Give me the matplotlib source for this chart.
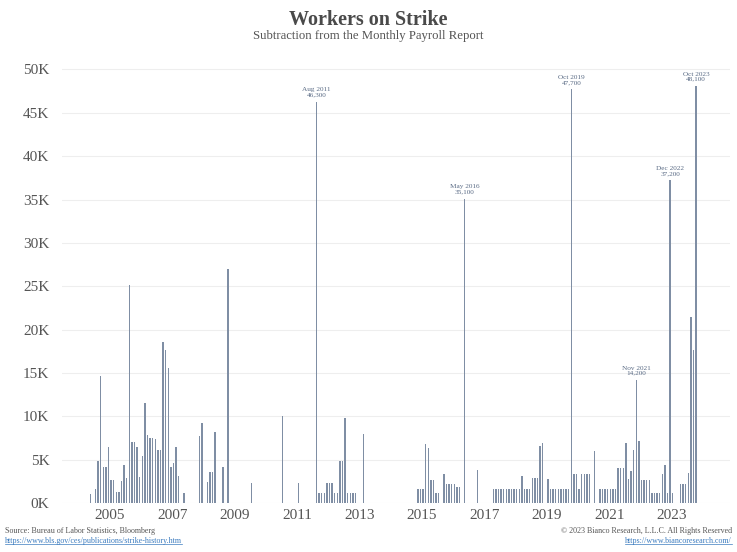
import matplotlib
matplotlib.use("Agg")
import matplotlib.pyplot as plt
from matplotlib.lines import Line2D

# monthly strikers subtracted from payrolls, thousands (months with no bar omitted)
months = [
    "2004-05", "2004-07", "2004-08", "2004-09", "2004-10", "2004-11", "2004-12",
    "2005-01", "2005-02", "2005-03", "2005-04", "2005-05", "2005-06", "2005-07",
    "2005-08", "2005-09", "2005-10", "2005-11", "2005-12",
    "2006-01", "2006-02", "2006-03", "2006-04", "2006-05", "2006-06", "2006-07",
    "2006-08", "2006-09", "2006-10", "2006-11", "2006-12",
    "2007-01", "2007-02", "2007-03", "2007-05", "2007-11", "2007-12",
    "2008-02", "2008-03", "2008-04", "2008-05", "2008-08", "2008-10",
    "2009-07", "2010-07", "2011-01",
    "2011-08", "2011-09", "2011-10", "2011-11", "2011-12",
    "2012-01", "2012-02", "2012-03", "2012-04", "2012-05", "2012-06", "2012-07",
    "2012-08", "2012-09", "2012-10", "2012-11", "2013-02",
    "2014-11", "2014-12",
    "2015-01", "2015-02", "2015-03", "2015-04", "2015-05", "2015-06", "2015-07",
    "2015-09", "2015-10", "2015-11", "2015-12",
    "2016-01", "2016-02", "2016-03", "2016-05", "2016-10",
    "2017-04", "2017-05", "2017-06", "2017-07", "2017-08", "2017-09", "2017-10",
    "2017-11", "2017-12",
    "2018-01", "2018-02", "2018-03", "2018-04", "2018-05", "2018-06", "2018-07",
    "2018-08", "2018-09", "2018-10", "2018-11",
    "2019-01", "2019-02", "2019-03", "2019-04", "2019-05", "2019-06", "2019-07",
    "2019-08", "2019-09", "2019-10", "2019-11", "2019-12",
    "2020-01", "2020-02", "2020-03", "2020-04", "2020-05", "2020-07", "2020-09",
    "2020-10", "2020-11", "2020-12",
    "2021-01", "2021-02", "2021-03", "2021-04", "2021-05", "2021-06", "2021-07",
    "2021-08", "2021-09", "2021-10", "2021-11", "2021-12",
    "2022-01", "2022-02", "2022-03", "2022-04", "2022-05", "2022-06", "2022-07",
    "2022-08", "2022-09", "2022-10", "2022-11", "2022-12",
    "2023-01", "2023-04", "2023-05", "2023-06", "2023-07", "2023-08", "2023-09",
    "2023-10",
]
strikers = [
    1.0, 1.6, 4.8, 14.6, 4.1, 4.1, 6.5,
    2.7, 2.7, 1.3, 1.3, 2.5, 4.4, 2.9,
    25.2, 7.0, 7.0, 6.5, 3.0,
    5.4, 11.5, 7.8, 7.5, 7.5, 7.4, 6.1,
    6.1, 18.6, 17.6, 15.6, 4.1,
    4.6, 6.5, 3.1, 1.2, 7.7, 9.2,
    2.4, 3.6, 3.6, 8.2, 4.2, 27.0,
    2.3, 10.0, 2.3,
    46.3, 1.2, 1.2, 1.2, 2.35,
    2.35, 2.35, 1.2, 1.2, 4.8, 4.8, 9.8,
    1.2, 1.2, 1.2, 1.2, 8.0,
    1.65, 1.65,
    1.65, 6.85, 6.3, 2.6, 2.6, 1.1, 1.1,
    3.3, 2.15, 2.15, 2.15,
    2.15, 1.9, 1.9, 35.1, 3.8,
    1.65, 1.65, 1.65, 1.65, 1.65, 1.65, 1.65,
    1.65, 1.65,
    1.65, 1.65, 3.1, 1.65, 1.65, 1.65, 2.9,
    2.9, 2.9, 6.6, 6.9,
    2.8, 1.6, 1.6, 1.6, 1.6, 1.6, 1.6,
    1.6, 1.6, 47.7, 3.4, 3.4,
    1.6, 3.4, 3.4, 3.4, 3.4, 6.0, 1.65,
    1.65, 1.65, 1.65,
    1.65, 1.65, 1.65, 4.0, 4.0, 4.0, 6.9,
    2.8, 3.7, 6.1, 14.2, 7.15,
    2.7, 2.7, 2.7, 2.7, 1.15, 1.15, 1.15,
    1.15, 3.3, 4.35, 1.15, 37.2,
    1.15, 2.15, 2.15, 2.15, 3.5, 21.4, 17.7,
    48.1,
]
callouts = ["2011-08", "2016-05", "2019-10", "2021-11", "2022-12", "2023-10"]
year_ticks = list(range(2005, 2024, 2))
y_ticks = list(range(0, 51, 5))

MONTH_NAMES = ["Jan", "Feb", "Mar", "Apr", "May", "Jun",
               "Jul", "Aug", "Sep", "Oct", "Nov", "Dec"]


def to_year(ym):
    y, m = ym.split("-")
    return int(y) + (int(m) - 1 + 0.4) / 12


SERIF = ["Liberation Serif", "DejaVu Serif"]
plt.rcParams["font.family"] = SERIF

W, H = 737, 552
fig = plt.figure(figsize=(W / 100, H / 100), dpi=100)
ax = fig.add_axes([62 / W, 1 - 503 / H, 668 / W, 448 / H])

xs = [to_year(m) for m in months]
bar_color = "#7f8ea4"
ax.bar(xs, strikers, width=0.48 / 12, color=bar_color, linewidth=0)

ax.set_xlim(2003.46, 2024.87)
ax.set_ylim(0, 51.67)
ax.set_yticks(y_ticks)
ax.set_yticklabels([f"{v}K" for v in y_ticks])
ax.set_xticks(year_ticks)
ax.set_xticklabels([str(y) for y in year_ticks])
ax.yaxis.grid(True, color="#eeeeee", linewidth=0.8)
ax.set_axisbelow(True)
for s in ax.spines.values():
    s.set_visible(False)
ax.tick_params(length=0, labelsize=11, colors="#555555")
ax.tick_params(axis="y", pad=9)
ax.tick_params(axis="x", pad=4)

# callouts over the big months
for ym in callouts:
    i = months.index(ym)
    y, m = ym.split("-")
    label = f"{MONTH_NAMES[int(m) - 1]} {y}\n{strikers[i] * 1000:,.0f}"
    ax.text(xs[i], strikers[i] + 0.5, label, ha="center", va="bottom",
            fontsize=5.2, color="#5a6b85", linespacing=1.0)

fig.text(0.5, 1 - 20 / H, "Workers on Strike", ha="center", va="center",
         fontsize=14.5, fontweight="bold", color="#4a4a4a")
fig.text(0.5, 1 - 36 / H, "Subtraction from the Monthly Payroll Report",
         ha="center", va="center", fontsize=9.2, color="#555555")

foot = dict(fontsize=5.8, va="center")
fig.text(5 / W, 1 - 531 / H, "Source: Bureau of Labor Statistics, Bloomberg",
         ha="left", color="#555555", **foot)
u1 = fig.text(5 / W, 1 - 541 / H,
              "https://www.bls.gov/ces/publications/strike-history.htm",
              ha="left", color="#3b7bbf", **foot)
fig.text(732 / W, 1 - 531 / H, "\u00a9 2023 Bianco Research, L.L.C. All Rights Reserved",
         ha="right", color="#555555", **foot)
u2 = fig.text(732 / W, 1 - 541 / H, "https://www.biancoresearch.com/",
              ha="right", color="#3b7bbf", **foot)

# underline the links
fig.canvas.draw()
for t in (u1, u2):
    bb = t.get_window_extent().transformed(fig.transFigure.inverted())
    fig.add_artist(Line2D([bb.x0, bb.x1], [bb.y0 + 0.002, bb.y0 + 0.002],
                          color="#3b7bbf", linewidth=0.5,
                          transform=fig.transFigure))

fig.savefig("out.png", dpi=100)
